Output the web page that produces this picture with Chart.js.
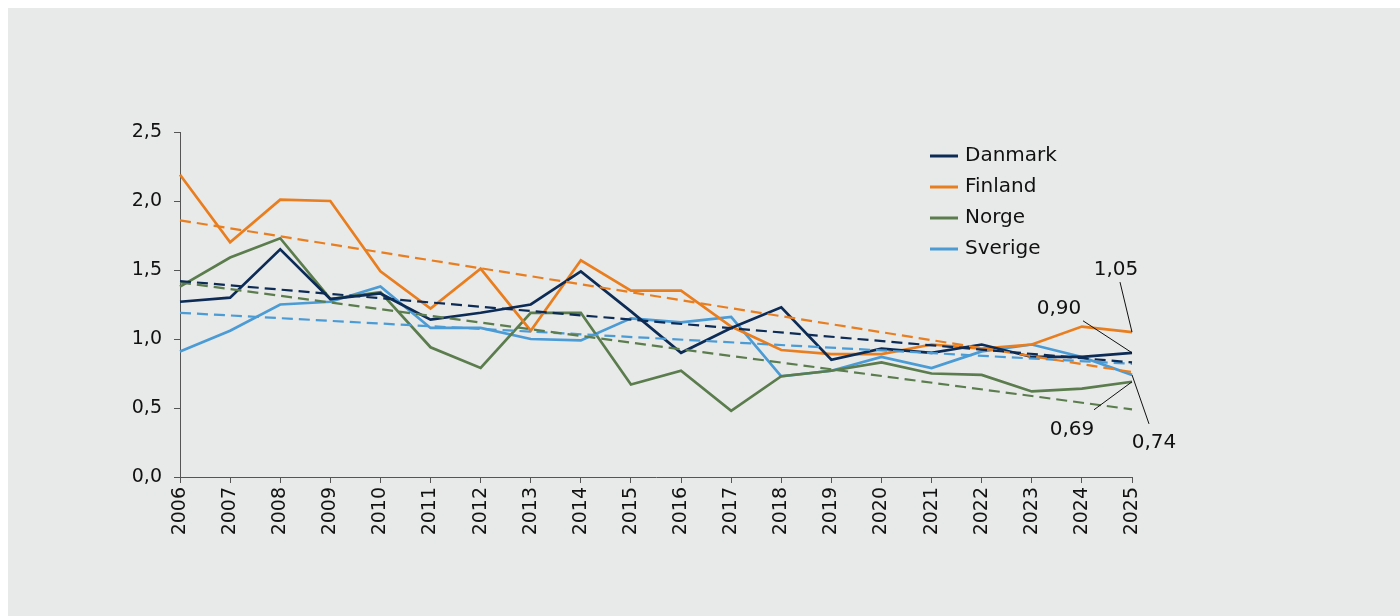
<!DOCTYPE html>
<html>
<head>
<meta charset="utf-8">
<script src="https://cdn.jsdelivr.net/npm/chart.js@4"></script>
<style>
  html, body { margin: 0; padding: 0; background: #fff; }
  #wrap { position: absolute; left: 0; top: 0; width: 1400px; height: 616px; }
</style>
</head>
<body>
<div id="wrap"><canvas id="chart" width="1400" height="616"></canvas></div>
<script>
// ── Data ─────────────────────────────────────────────────────────────────────
const YEARS   = ["2006","2007","2008","2009","2010","2011","2012","2013","2014","2015",
                 "2016","2017","2018","2019","2020","2021","2022","2023","2024","2025"];
const DANMARK = [1.27, 1.30, 1.65, 1.29, 1.33, 1.14, 1.19, 1.25, 1.49, 1.20,
                 0.90, 1.08, 1.23, 0.85, 0.93, 0.90, 0.96, 0.87, 0.87, 0.90];
const FINLAND = [2.19, 1.70, 2.01, 2.00, 1.49, 1.22, 1.51, 1.06, 1.57, 1.35,
                 1.35, 1.09, 0.92, 0.89, 0.89, 0.96, 0.93, 0.96, 1.09, 1.05];
const NORGE   = [1.38, 1.59, 1.73, 1.29, 1.34, 0.94, 0.79, 1.19, 1.19, 0.67,
                 0.77, 0.48, 0.73, 0.77, 0.83, 0.75, 0.74, 0.62, 0.64, 0.69];
const SVERIGE = [0.91, 1.06, 1.25, 1.27, 1.38, 1.08, 1.08, 1.00, 0.99, 1.15,
                 1.12, 1.16, 0.73, 0.77, 0.87, 0.79, 0.91, 0.96, 0.87, 0.74];

// trend lines: start (2006) and end (2025) values
const TREND_DK = [1.42, 0.83];
const TREND_FI = [1.86, 0.76];
const TREND_NO = [1.41, 0.49];
const TREND_SE = [1.19, 0.82];

const Y_TICKS = [0, 0.5, 1.0, 1.5, 2.0, 2.5];

// ── Style ────────────────────────────────────────────────────────────────────
const C_DK = "#0c2b55";
const C_FI = "#e97e1f";
const C_NO = "#5b7c4c";
const C_SE = "#4b9bd5";
const FONT = "'DejaVu Sans', Verdana, sans-serif";

const fmt = v => v.toFixed(2).replace(".", ",");

// spread two end values over the category axis (nulls in between, line spans gaps)
function trend(ends) {
  const arr = YEARS.map(() => null);
  arr[0] = ends[0];
  arr[YEARS.length - 1] = ends[1];
  return arr;
}

function solid(label, data, color, note) {
  return { label, data, borderColor: color, backgroundColor: color, borderWidth: 2.7,
           pointRadius: 0, tension: 0, isMain: true, note };
}
function dashed(ends, color) {
  return { label: "", data: trend(ends), borderColor: color, borderWidth: 2.2,
           borderDash: [11, 6], pointRadius: 0, spanGaps: true, tension: 0, isMain: false };
}

// ── Plugins ──────────────────────────────────────────────────────────────────
const panelBg = {
  id: "panelBg",
  beforeDraw(chart) {
    const c = chart.ctx;
    c.save();
    c.fillStyle = "#fff";
    c.fillRect(0, 0, chart.width, chart.height);
    c.fillStyle = "#e8e9e9";
    c.fillRect(8, 8, chart.width - 8, chart.height - 8);
    c.restore();
  }
};

const sideLegend = {
  id: "sideLegend",
  afterDraw(chart) {
    const c = chart.ctx;
    const items = chart.data.datasets.filter(d => d.isMain);
    c.save();
    c.font = "20px " + FONT;
    c.textBaseline = "middle";
    items.forEach((d, i) => {
      const y = 156 + i * 31;
      c.strokeStyle = d.borderColor;
      c.lineWidth = 3;
      c.beginPath();
      c.moveTo(930, y);
      c.lineTo(958, y);
      c.stroke();
      c.fillStyle = "#111";
      c.fillText(d.label, 965, y);
    });
    c.restore();
  }
};

const endNotes = {
  id: "endNotes",
  afterDatasetsDraw(chart) {
    const c = chart.ctx;
    const xs = chart.scales.x, ys = chart.scales.y;
    const last = YEARS.length - 1;
    c.save();
    c.font = "20px " + FONT;
    c.textAlign = "center";
    c.textBaseline = "middle";
    chart.data.datasets.filter(d => d.isMain).forEach(d => {
      const px = xs.getPixelForValue(last);
      const py = ys.getPixelForValue(d.data[last]);
      const n = d.note;
      c.strokeStyle = "#111";
      c.lineWidth = 1;
      c.beginPath();
      c.moveTo(px + n.lx, py + n.ly);
      c.lineTo(px, py);
      c.stroke();
      c.fillStyle = "#111";
      c.fillText(fmt(d.data[last]), px + n.tx, py + n.ty);
    });
    c.restore();
  }
};

// ── Chart ────────────────────────────────────────────────────────────────────
new Chart(document.getElementById("chart"), {
  type: "line",
  data: {
    labels: YEARS,
    datasets: [
      dashed(TREND_DK, C_DK),
      dashed(TREND_FI, C_FI),
      dashed(TREND_NO, C_NO),
      dashed(TREND_SE, C_SE),
      solid("Danmark", DANMARK, C_DK, { tx: -73, ty: -44, lx: -49, ly: -32 }),
      solid("Finland", FINLAND, C_FI, { tx: -16, ty: -62, lx: -12, ly: -50 }),
      solid("Norge",   NORGE,   C_NO, { tx: -60, ty: 48,  lx: -38, ly: 28 }),
      solid("Sverige", SVERIGE, C_SE, { tx: 22,  ty: 68,  lx: 17,  ly: 49 }),
    ],
  },
  options: {
    responsive: false,
    animation: false,
    layout: { padding: { left: 0, top: 132, right: 268, bottom: 49 } },
    plugins: { legend: { display: false }, tooltip: { enabled: false } },
    scales: {
      x: {
        offset: false,
        grid: { drawOnChartArea: false, drawTicks: true, tickLength: 6, color: "#555" },
        border: { color: "#555", width: 1 },
        ticks: { color: "#111", font: { family: FONT, size: 19 }, minRotation: 90, maxRotation: 90,
                 autoSkip: false, padding: 4 },
        afterFit: s => { s.height = 90; },
      },
      y: {
        min: 0, max: 2.5,
        afterBuildTicks: s => { s.ticks = Y_TICKS.map(v => ({ value: v })); },
        grid: { drawOnChartArea: false, drawTicks: true, tickLength: 6, color: "#555" },
        border: { color: "#555", width: 1 },
        ticks: { color: "#111", font: { family: FONT, size: 19 }, padding: 12,
                 callback: v => v.toFixed(1).replace(".", ",") },
        afterFit: s => { s.width = 180; },
      },
    },
  },
  plugins: [panelBg, sideLegend, endNotes],
});
</script>
</body>
</html>
